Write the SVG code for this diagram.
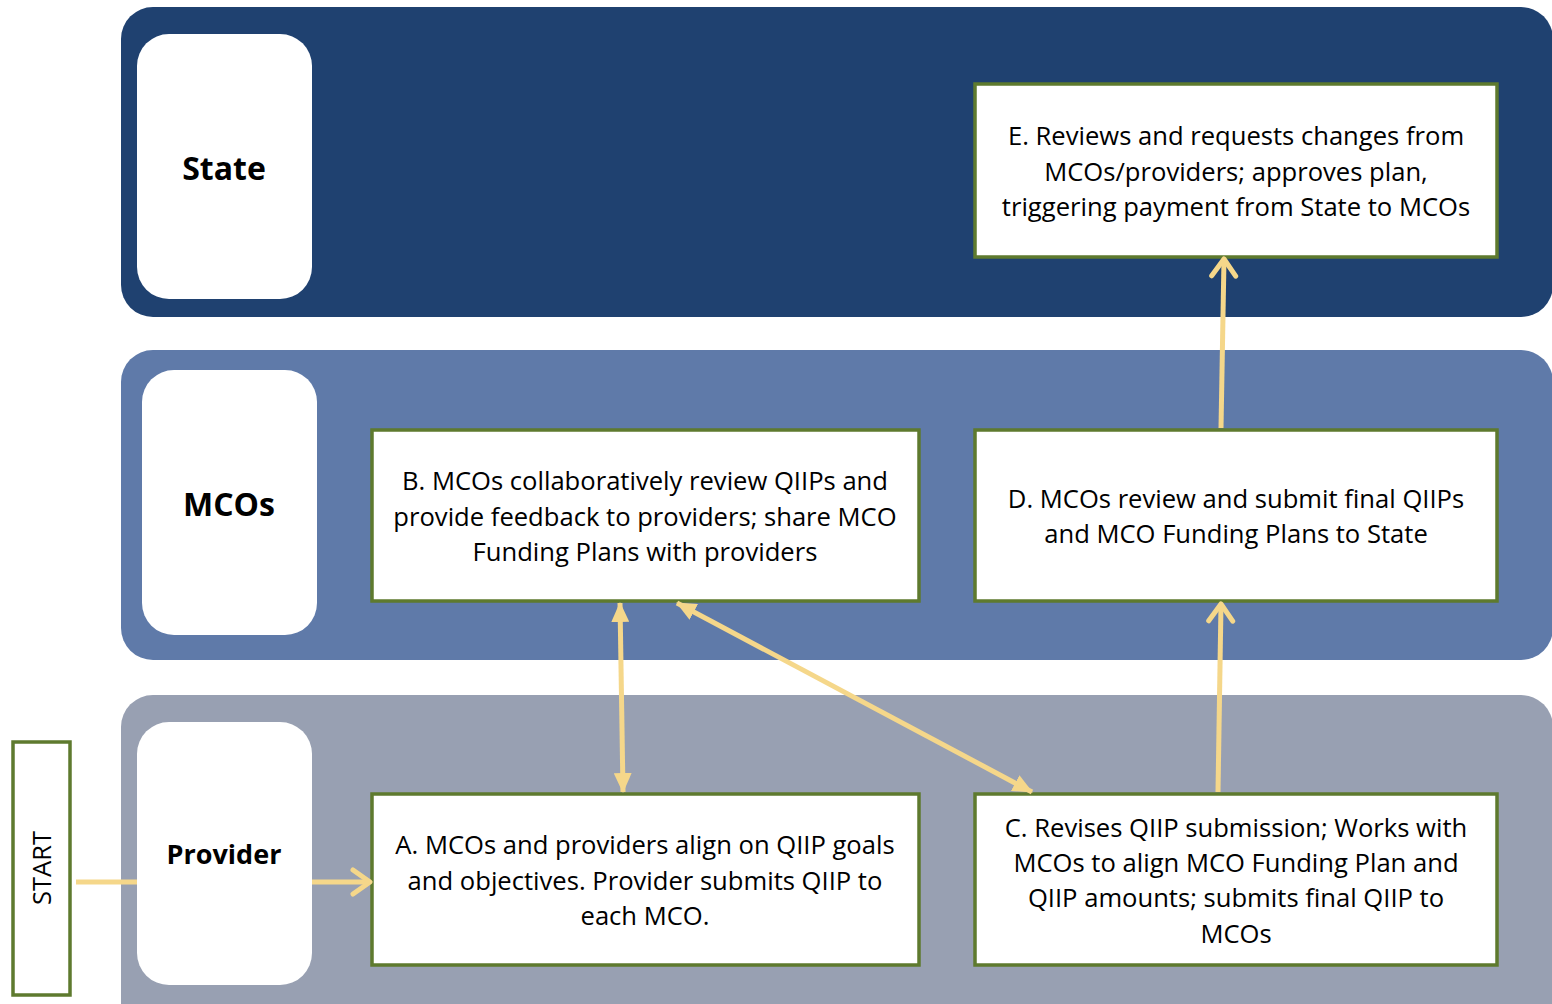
<svg xmlns="http://www.w3.org/2000/svg" width="1552" height="1004" viewBox="0 0 1552 1004">
<style>
.lane-label{fill:#fff}
.box{fill:#fff;stroke:#5E7A2E;stroke-width:3.5}
.t{font-family:"Open Sans","Liberation Sans",sans-serif;font-size:25.6px;fill:#000;text-anchor:middle}
.lb{font-family:"Open Sans","Liberation Sans",sans-serif;font-weight:bold;fill:#000;text-anchor:middle}
.conn{stroke:#F5D78A;stroke-width:5;fill:none}
</style>
<defs>
<marker id="chev" markerUnits="userSpaceOnUse" viewBox="0 0 24 30" markerWidth="24" markerHeight="30" refX="21" refY="15" orient="auto">
<path d="M4,3 L21,15 L4,27" fill="none" stroke="#F5D78A" stroke-width="5" stroke-linecap="round" stroke-linejoin="round"/>
</marker>
<marker id="tri" markerUnits="userSpaceOnUse" viewBox="0 0 20 18" markerWidth="20" markerHeight="18" refX="19" refY="9" orient="auto-start-reverse">
<path d="M0,0 L20,9 L0,18 Z" fill="#F5D78A"/>
</marker>
</defs>
<g id="lanes">
<rect x="121" y="7" width="1432" height="310" rx="32" fill="#1F4170"/>
<rect x="121" y="350" width="1432" height="310" rx="32" fill="#5F7AA9"/>
<rect x="121" y="695" width="1432" height="340" rx="32" fill="#98A0B2"/>
</g>
<g id="state-label"><rect class="lane-label" x="137" y="34" width="175" height="265" rx="32"/><text class="lb" x="224" y="180" font-size="32">State</text></g>
<g id="mcos-label"><rect class="lane-label" x="142" y="370" width="175" height="265" rx="32"/><text class="lb" x="229" y="516" font-size="32">MCOs</text></g>
<g id="provider-label"><rect class="lane-label" x="137" y="722" width="175" height="263" rx="32"/><text class="lb" x="224" y="864" font-size="27">Provider</text></g>
<g id="start"><rect x="13" y="742" width="57" height="253" fill="#fff" stroke="#5E7A2E" stroke-width="3.5"/><text class="t" x="0" y="0" font-size="26" transform="translate(51,868) rotate(-90)">START</text></g>
<g id="nodeE"><rect class="box" x="975" y="84" width="522" height="173"/>
<text class="t" x="1236" y="145">E. Reviews and requests changes from</text>
<text class="t" x="1236" y="181">MCOs/providers; approves plan,</text>
<text class="t" x="1236" y="216">triggering payment from State to MCOs</text></g>
<g id="nodeB"><rect class="box" x="372" y="430" width="547" height="171"/>
<text class="t" x="645" y="490">B. MCOs collaboratively review QIIPs and</text>
<text class="t" x="645" y="526">provide feedback to providers; share MCO</text>
<text class="t" x="645" y="561">Funding Plans with providers</text></g>
<g id="nodeD"><rect class="box" x="975" y="430" width="522" height="171"/>
<text class="t" x="1236" y="508">D. MCOs review and submit final QIIPs</text>
<text class="t" x="1236" y="543">and MCO Funding Plans to State</text></g>
<g id="nodeA"><rect class="box" x="372" y="794" width="547" height="171"/>
<text class="t" x="645" y="854">A. MCOs and providers align on QIIP goals</text>
<text class="t" x="645" y="890">and objectives. Provider submits QIIP to</text>
<text class="t" x="645" y="925">each MCO.</text></g>
<g id="nodeC"><rect class="box" x="975" y="794" width="522" height="171"/>
<text class="t" x="1236" y="837">C. Revises QIIP submission; Works with</text>
<text class="t" x="1236" y="872">MCOs to align MCO Funding Plan and</text>
<text class="t" x="1236" y="907">QIIP amounts; submits final QIIP to</text>
<text class="t" x="1236" y="943">MCOs</text></g>
<g id="connectors">
<line class="conn" x1="76" y1="882" x2="137" y2="882"/>
<line class="conn" x1="312" y1="882" x2="370" y2="882" marker-end="url(#chev)"/>
<line class="conn" x1="620" y1="603" x2="623" y2="792" marker-start="url(#tri)" marker-end="url(#tri)"/>
<line class="conn" x1="677" y1="603" x2="1032" y2="792" marker-start="url(#tri)" marker-end="url(#tri)"/>
<line class="conn" x1="1218" y1="792" x2="1221" y2="604" marker-end="url(#chev)"/>
<line class="conn" x1="1221" y1="428" x2="1224" y2="259" marker-end="url(#chev)"/>
</g>
</svg>
